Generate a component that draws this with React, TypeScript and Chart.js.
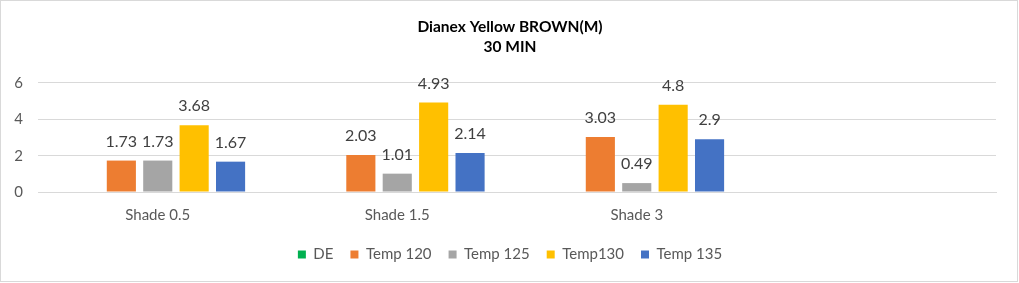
import React, { useEffect, useRef } from "react";
import { Chart, registerables } from "chart.js";

Chart.register(...registerables);

const categories = ["Shade 0.5", "Shade 1.5", "Shade 3", ""];
const seriesNames = ["DE", "Temp 120", "Temp 125", "Temp130", "Temp 135"];
const deValues = [null, null, null, null];
const temp120 = [1.73, 2.03, 3.03, null];
const temp125 = [1.73, 1.01, 0.49, null];
const temp130 = [3.68, 4.93, 4.8, null];
const temp135 = [1.67, 2.14, 2.9, null];
const yTicks = [0, 2, 4, 6];
const titleLines = ["Dianex Yellow BROWN(M)", "30 MIN"];

const colors = ["#00b050", "#ed7d31", "#a5a5a5", "#ffc000", "#4472c4"];
const FONT = "Lato, 'Noto Sans', sans-serif";

const labelPlugin = {
  id: "valueLabels",
  afterDatasetsDraw(chart: any) {
    const ctx = chart.ctx;
    ctx.save();
    ctx.font = `16px ${FONT}`;
    ctx.fillStyle = "#404040";
    ctx.textAlign = "center";
    ctx.textBaseline = "middle";
    chart.data.datasets.forEach((ds: any, di: number) => {
      const meta = chart.getDatasetMeta(di);
      meta.data.forEach((el: any, i: number) => {
        const v = ds.data[i];
        if (v === null || v === undefined) return;
        ctx.fillText(String(v), el.x, el.y - 19);
      });
    });
    ctx.restore();
  },
};

export default function App() {
  const ref = useRef<HTMLCanvasElement>(null);
  useEffect(() => {
    document.body.style.margin = "0";
    const allData = [deValues, temp120, temp125, temp130, temp135];
    const chart = new Chart(ref.current!, {
      type: "bar",
      data: {
        labels: categories,
        datasets: seriesNames.map((n, i) => ({
          label: n,
          data: allData[i] as any,
          backgroundColor: colors[i],
          borderWidth: 0,
          categoryPercentage: 0.76,
          barPercentage: 0.8,
        })),
      },
      options: {
        animation: false,
        responsive: false,
        maintainAspectRatio: false,
        layout: { padding: { left: 14, right: 13, top: 0, bottom: 11 } },
        plugins: {
          title: {
            display: true,
            text: titleLines,
            color: "#000000",
            font: { family: FONT, size: 15.5, weight: "bold", lineHeight: 1.29 },
            padding: { top: 17, bottom: 26 },
          },
          legend: {
            position: "bottom",
            labels: {
              boxWidth: 8,
              boxHeight: 8,
              color: "#595959",
              font: { family: FONT, size: 15 },
              padding: 17,
            },
          },
          tooltip: { enabled: false },
        },
        scales: {
          x: {
            grid: { display: false },
            border: { color: "#d9d9d9" },
            ticks: { color: "#595959", font: { family: FONT, size: 15 }, padding: 6 },
          },
          y: {
            min: 0,
            max: 6,
            afterBuildTicks: (axis: any) => {
              axis.ticks = yTicks.map((v) => ({ value: v }));
            },
            afterFit: (axis: any) => {
              axis.width = 24;
            },
            grid: { color: "#d9d9d9", drawTicks: false },
            border: { display: false },
            ticks: { color: "#595959", font: { family: FONT, size: 15 }, padding: 15 },
          },
          y2: {
            position: "right",
            display: true,
            afterFit: (axis: any) => {
              axis.width = 10;
            },
            grid: { display: false, drawTicks: false },
            border: { display: false },
            ticks: { display: false },
          },
        },
      },
      plugins: [labelPlugin],
    });
    return () => chart.destroy();
  }, []);
  return (
    <div style={{ position: "relative", width: 1019, height: 283 }}>
      <canvas ref={ref} width={1019} height={283} style={{ display: "block" }} />
      <div
        style={{
          position: "absolute",
          left: 0,
          top: 0,
          width: 1018,
          height: 282,
          border: "1px solid #d9d9d9",
          boxSizing: "border-box",
          pointerEvents: "none",
        }}
      />
    </div>
  );
}
